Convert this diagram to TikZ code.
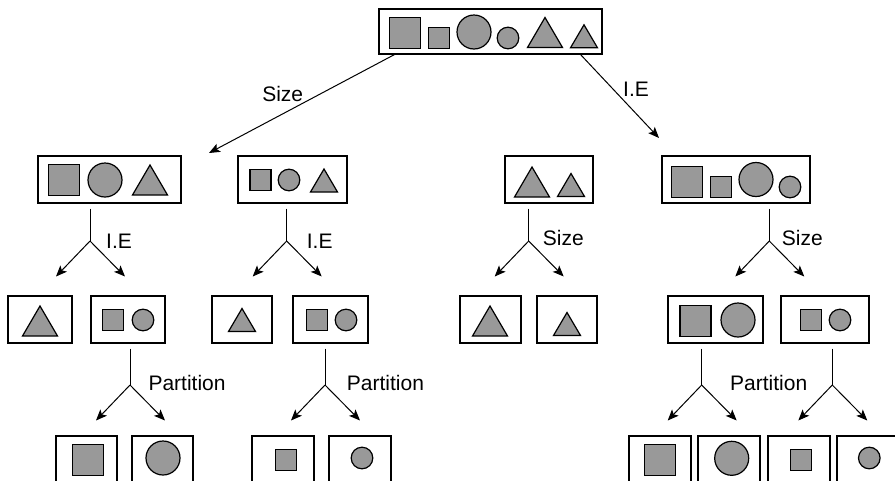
\documentclass[tikz,border=0pt]{standalone}
\usepackage{fontspec}
\setmainfont{Liberation Sans}
\usepackage{tikz}
\usetikzlibrary{arrows.meta,calc}
\definecolor{shade}{HTML}{999999}

\tikzset{
  shp/.style={draw, line width=1.2pt, fill=shade},
  bigsq/.pic={\path[shp] (-15.5,-15.5) rectangle (15.5,15.5);},
  smsq/.pic={\path[shp] (-10.5,-10.5) rectangle (10.5,10.5);},
  bigci/.pic={\path[shp] (0,0) circle (17pt);},
  smci/.pic={\path[shp] (0,0) circle (10.8pt);},
  bigtr/.pic={\path[shp] (-17.5,15) -- (0,-15) -- (17.5,15) -- cycle;},
  smtr/.pic={\path[shp] (-13.5,11.5) -- (0,-11.5) -- (13.5,11.5) -- cycle;},
}

\begin{document}
\begin{tikzpicture}[x=1pt, y=-1pt, font=\fontsize{21}{25}\selectfont]
\tikzset{grp/.style={draw, line width=1.2pt, minimum height=47pt, inner sep=0pt},
         link/.style={line width=1pt, -{Stealth[length=11pt, width=9pt, inset=2.5pt]}},
         stem/.style={line width=1pt},
         rule/.style={anchor=west, inner sep=0pt}}
\useasboundingbox (0,0) rectangle (895,480);
\clip (0,0) rectangle (895,480);

% all objects
\node[grp, minimum width=223pt, minimum height=45pt] (all) at (490.5,31.5) {};
\pic at (405,33) {bigsq}; \pic at (439,38) {smsq};
\pic at (474,32) {bigci}; \pic at (508,38) {smci};
\pic at (545,32.5) {bigtr}; \pic at (584,36.3) {smtr};

% second level
\node[grp, minimum width=143pt] (big) at (109.5,179.5) {};
\pic at (64,180) {bigsq}; \pic at (105,180) {bigci}; \pic at (150,180) {bigtr};
\node[grp, minimum width=109pt] (small) at (292.5,179.5) {};
\pic at (260.5,180) {smsq}; \pic at (289,180) {smci}; \pic at (324,180.5) {smtr};
\node[grp, minimum width=88pt] (tri) at (549,179.5) {};
\pic at (532,182) {bigtr}; \pic at (571,185) {smtr};
\node[grp, minimum width=148pt] (round) at (736,179.5) {};
\pic at (687,182) {bigsq}; \pic at (721,187) {smsq};
\pic at (756,179.5) {bigci}; \pic at (790,187) {smci};

% third level
\node[grp, minimum width=64pt] (bigtri) at (40,319.5) {};
\pic at (40,321) {bigtr};
\node[grp, minimum width=74pt] (bigrest) at (128,319.5) {};
\pic at (113,320) {smsq}; \pic at (143,320) {smci};
\node[grp, minimum width=60pt] (smtri) at (242,319.5) {};
\pic at (242,320) {smtr};
\node[grp, minimum width=75pt] (smrest) at (330.5,319.5) {};
\pic at (317,320) {smsq}; \pic at (346,320) {smci};
\node[grp, minimum width=61pt] (tribig) at (490.5,319.5) {};
\pic at (490,321) {bigtr};
\node[grp, minimum width=60pt] (trism) at (567,319.5) {};
\pic at (567,324) {smtr};
\node[grp, minimum width=95pt] (roundbig) at (715.5,319.5) {};
\pic at (695.5,321) {bigsq}; \pic at (738,320) {bigci};
\node[grp, minimum width=88pt] (roundsm) at (825,319.5) {};
\pic at (811,320) {smsq}; \pic at (840,320) {smci};

% fourth level
\node[grp, minimum width=61pt] (p1) at (86.5,459.5) {};
\pic at (88,460) {bigsq};
\node[grp, minimum width=61pt] (p2) at (162.5,459.5) {};
\pic at (163,458) {bigci};
\node[grp, minimum width=62pt] (p3) at (283,459.5) {};
\pic at (286,460) {smsq};
\node[grp, minimum width=62pt] (p4) at (360,459.5) {};
\pic at (362,458) {smci};
\node[grp, minimum width=62pt] (p5) at (660,459.5) {};
\pic at (660,460) {bigsq};
\node[grp, minimum width=62pt] (p6) at (729,459.5) {};
\pic at (731.7,458.3) {bigci};
\node[grp, minimum width=62pt] (p7) at (799,459.5) {};
\pic at (801,460) {smsq};
\node[grp, minimum width=62pt] (p8) at (868,459.5) {};
\pic at (869.3,458) {smci};

% first split
\coordinate (tobig) at (209,153);
\coordinate (toround) at (659,138);
\draw[link] ([xshift=16pt]all.south west) -- (tobig);
\draw[link] ([xshift=-22pt]all.south east) -- (toround);
\node at (282.7,94) {Size};
\node at (636,89) {I.E};

% forks below the boxes
\coordinate (fbig) at (90,241);
\coordinate (fsmall) at (286.7,241);
\coordinate (ftri) at (528.7,241);
\coordinate (fround) at (769.3,241);
\coordinate (fbigrest) at (130,385);
\coordinate (fsmrest) at (325,385);
\coordinate (froundbig) at (701.7,385);
\coordinate (froundsm) at (832.3,385);
\foreach \b/\f in {big/fbig, small/fsmall, tri/ftri, round/fround,
                   bigrest/fbigrest, smrest/fsmrest, roundbig/froundbig, roundsm/froundsm} {
  \draw[stem] ([yshift=-5pt]\f |- \b.south) -- (\f);
  \draw[link] (\f) -- ++(-34,35.5);
  \draw[link] (\f) -- ++(35,35.5);
}
\node[rule] at (106,241) {I.E};
\node[rule] at (306.7,241) {I.E};
\node[rule] at (542.7,238) {Size};
\node[rule] at (781.7,238) {Size};
\node[rule] at (148.3,383) {Partition};
\node[rule] at (346.7,383) {Partition};
\node[rule] at (730,383) {Partition};
\end{tikzpicture}
\end{document}
